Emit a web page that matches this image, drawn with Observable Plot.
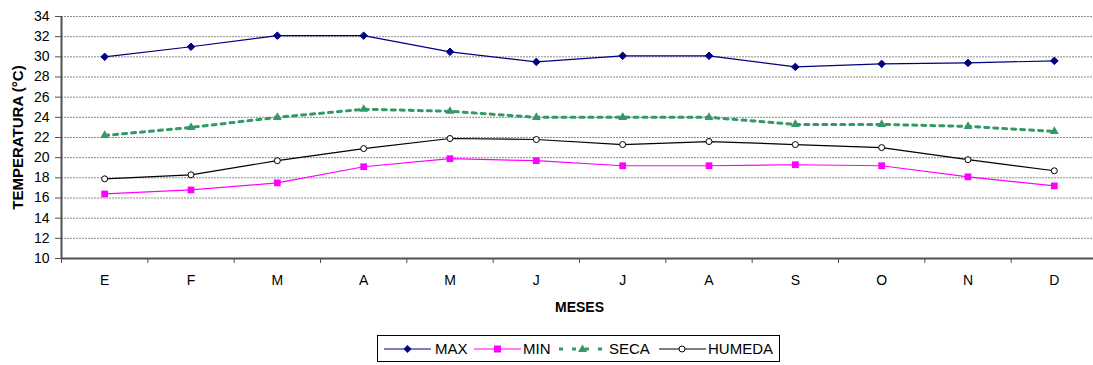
<!DOCTYPE html>
<html>
<head>
<meta charset="utf-8">
<script src="https://cdn.jsdelivr.net/npm/d3@7"></script>
<script src="https://cdn.jsdelivr.net/npm/@observablehq/plot@0.6"></script>
<style>
  html, body { margin: 0; padding: 0; background: #fff; }
  #wrap { position: relative; width: 1093px; height: 365px; font-family: "Liberation Sans", Arial, sans-serif; }
  #legend { position: absolute; left: 377px; top: 335px; width: 403px; height: 27px; border: 1px solid #000; box-sizing: border-box; font-size: 15px; }
  #legend svg, #legend span { position: absolute; }
  #legend span { top: 4px; line-height: 17px; }
</style>
</head>
<body>
<div id="wrap">
  <div id="chart"></div>
  <div id="legend"></div>
</div>
<script>
const months = ["E","F","M","A","M","J","J","A","S","O","N","D"];
const maxT    = [30.0, 31.0, 32.1, 32.1, 30.5, 29.5, 30.1, 30.1, 29.0, 29.3, 29.4, 29.6];
const minT    = [16.4, 16.8, 17.5, 19.1, 19.9, 19.7, 19.2, 19.2, 19.3, 19.2, 18.1, 17.2];
const secaT   = [22.2, 23.0, 24.0, 24.8, 24.6, 24.0, 24.0, 24.0, 23.3, 23.3, 23.1, 22.6];
const humedaT = [17.9, 18.3, 19.7, 20.9, 21.9, 21.8, 21.3, 21.6, 21.3, 21.0, 19.8, 18.7];
const yTicks = d3.range(10, 35, 2);
const seriesNames = ["MAX", "MIN", "SECA", "HUMEDA"];

const rows = (vals) => vals.map((v, i) => ({i, v}));
const dMax = rows(maxT), dMin = rows(minT), dSeca = rows(secaT), dHum = rows(humedaT);

const chart = Plot.plot({
  width: 1093,
  height: 330,
  marginTop: 16,
  marginBottom: 72,
  marginLeft: 61,
  marginRight: 0,
  style: {fontFamily: "'Liberation Sans', Arial, sans-serif", fontSize: "14px", overflow: "visible"},
  x: {type: "linear", domain: [-0.5, 11.5], range: [61, 1097]},
  y: {domain: [10, 34]},
  marks: [
    Plot.ruleY(yTicks.filter(t => t > 10), {stroke: "#8a8a8a", strokeWidth: 1, strokeDasharray: "2,1"}),
    Plot.ruleX([-0.5], {stroke: "#505050", strokeWidth: 2}),
    Plot.ruleY([10], {stroke: "#505050", strokeWidth: 2}),
    Plot.axisY({ticks: yTicks, tickSize: 6, tickPadding: 6, fontSize: 14, stroke: "#505050", label: null}),
    Plot.axisX({ticks: d3.range(-0.5, 12, 1), tickSize: 5, tickFormat: () => "", stroke: "#505050", label: null}),
    Plot.axisX({ticks: d3.range(0, 12), tickSize: 0, tickPadding: 17, tickFormat: i => months[i], fontSize: 14, label: null}),
    Plot.text(["MESES"], {x: 5.5, y: 10, dy: 49, fontWeight: "bold", fontSize: 14}),
    Plot.text(["TEMPERATURA (°C)"], {frameAnchor: "left", rotate: -90, dx: -43, textAnchor: "middle", fontWeight: "bold", fontSize: 15}),
    Plot.line(dMax, {x: "i", y: "v", stroke: "#000080", strokeWidth: 1.2}),
    Plot.line(dMin, {x: "i", y: "v", stroke: "#FF00FF", strokeWidth: 1.2}),
    Plot.line(dSeca, {x: "i", y: "v", stroke: "#339966", strokeWidth: 3, strokeDasharray: "4,5"}),
    Plot.line(dHum, {x: "i", y: "v", stroke: "#000", strokeWidth: 1.2}),
    Plot.dot(dMax, {x: "i", y: "v", symbol: "diamond2", r: 3.4, fill: "#000080", stroke: "#000080", strokeWidth: 1}),
    Plot.dot(dMin, {x: "i", y: "v", symbol: "square", r: 3.8, fill: "#FF00FF"}),
    Plot.dot(dSeca, {x: "i", y: "v", symbol: "triangle", r: 3.3, fill: "#339966"}),
    Plot.dot(dHum, {x: "i", y: "v", symbol: "circle", r: 3, fill: "#fff", stroke: "#000", strokeWidth: 1})
  ]
});
document.getElementById("chart").appendChild(chart);

// Legend (positions relative to legend box)
const legendStyles = {
  MAX:    {lx: 6,   tx: 57,  stroke: "#000080", dash: null,  w: 1.2, marker: '<path d="M23.5,4 L27.5,8 L23.5,12 L19.5,8 Z" fill="#000080"/>'},
  MIN:    {lx: 96,  tx: 145, stroke: "#FF00FF", dash: null,  w: 1.2, marker: '<rect x="20" y="4.5" width="7" height="7" fill="#FF00FF"/>'},
  SECA:   {lx: 181, tx: 231, stroke: "#339966", dash: "4,9", w: 3,   marker: '<path d="M23.5,3.5 L28,11 L19,11 Z" fill="#339966"/>'},
  HUMEDA: {lx: 281, tx: 330, stroke: "#000",    dash: null,  w: 1.2, marker: '<circle cx="23" cy="8" r="3" fill="#fff" stroke="#000"/>'}
};
const leg = document.getElementById("legend");
seriesNames.forEach(name => {
  const s = legendStyles[name];
  const svg = `<svg width="47" height="16" style="left:${s.lx}px;top:5px"><line x1="0" x2="47" y1="8" y2="8" stroke="${s.stroke}" stroke-width="${s.w}" ${s.dash ? `stroke-dasharray="${s.dash}"` : ""}/>${s.marker}</svg>`;
  leg.insertAdjacentHTML("beforeend", svg + `<span style="left:${s.tx}px">${name}</span>`);
});
</script>
</body>
</html>
